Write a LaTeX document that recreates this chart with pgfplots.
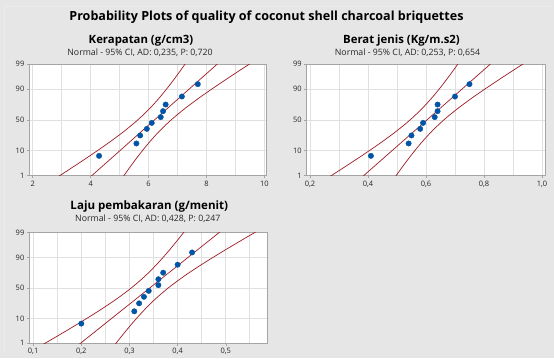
\documentclass[border=0pt]{standalone}
\usepackage{pgfplots}
\pgfplotsset{compat=1.18}
\usepackage{fontspec}
\setmainfont{Open Sans}
\definecolor{bg}{RGB}{230,230,230}
\definecolor{framec}{RGB}{165,165,165}
\definecolor{gridc}{RGB}{224,224,224}
\definecolor{ptblue}{RGB}{0,84,166}
\definecolor{cired}{RGB}{158,28,36}
\begin{document}
\begin{tikzpicture}[x=1bp,y=1bp]
\fill[bg] (0,0) rectangle (554,-358);
\draw[white!92!black, line width=0.6bp] (4.5,-352) -- (4.5,-6.5) -- (550,-6.5);
\pgfplotsset{pp/.style={scale only axis, width=237.4bp, height=111.4bp, anchor=north west,
  ymin=-2.3263, ymax=2.3263, ytick={-2.3263,-1.2816,0,1.2816,2.3263}, yticklabels={1,10,50,90,99},
  axis line style={framec, line width=0.9bp}, xmajorgrids, ymajorgrids, xminorgrids,
  major grid style={gridc, line width=0.8bp}, minor grid style={gridc, line width=0.8bp},
  tick style={framec, line width=0.6bp}, tick align=outside, major tick length=2.5bp, minor tick length=0pt,
  xtick pos=bottom, ytick pos=left,
  ticklabel style={font=\fontsize{7.5}{8}\selectfont, text=black!85},
  xticklabel style={yshift=1bp}, yticklabel style={xshift=1bp},
  axis background/.style={fill=white},
  /pgf/number format/assume math mode=true},
  pts/.style={only marks, mark=*, mark size=2.7bp, ptblue},
  fit/.style={cired, line width=0.7bp},
  band/.style={cired, line width=0.7bp, smooth}}
% Panel 1
\begin{axis}[pp, at={(29.3bp,-64.3bp)}, xmin=1.88, xmax=10.08, xtick={2,4,6,8,10}, minor xtick={3,5,7,9}]
\addplot[band] coordinates {(2.833,-2.4) (3.342,-2) (3.965,-1.5) (4.564,-1) (5.124,-0.5) (5.624,0) (6.054,0.5) (6.424,1) (6.755,1.5) (7.062,2) (7.297,2.4)};
\addplot[band] coordinates {(5.103,-2.4) (5.338,-2) (5.645,-1.5) (5.976,-1) (6.346,-0.5) (6.776,0) (7.276,0.5) (7.836,1) (8.435,1.5) (9.058,2) (9.567,2.4)};
\addplot[fit] coordinates {(3.968,-2.4) (8.432,2.4)};
\addplot[pts] coordinates {(4.29,-1.497) (5.58,-0.980) (5.71,-0.645) (5.94,-0.370) (6.11,-0.121) (6.42,0.121) (6.50,0.370) (6.59,0.645) (7.15,0.980) (7.70,1.497)};
\end{axis}
% Panel 2
\begin{axis}[pp, at={(306.7bp,-64.3bp)}, width=238.6bp, xmin=0.1886, xmax=1.0115, xtick={0.2,0.4,0.6,0.8,1.0}, xticklabels={{0,2},{0,4},{0,6},{0,8},{1,0}}, minor xtick={0.3,0.5,0.7,0.9}]
\addplot[band] coordinates {(0.2634,-2.4) (0.3147,-2) (0.3776,-1.5) (0.4380,-1) (0.4944,-0.5) (0.5449,0) (0.5882,0.5) (0.6256,1) (0.6590,1.5) (0.6899,2) (0.7136,2.4)};
\addplot[band] coordinates {(0.4924,-2.4) (0.5161,-2) (0.5471,-1.5) (0.5804,-1) (0.6178,-0.5) (0.6611,0) (0.7116,0.5) (0.7680,1) (0.8285,1.5) (0.8913,2) (0.9426,2.4)};
\addplot[fit] coordinates {(0.3779,-2.4) (0.8281,2.4)};
\addplot[pts] coordinates {(0.41,-1.497) (0.54,-0.980) (0.55,-0.645) (0.58,-0.370) (0.59,-0.121) (0.63,0.121) (0.64,0.370) (0.64,0.645) (0.70,0.980) (0.75,1.497)};
\end{axis}
% Panel 3
\begin{axis}[pp, at={(29.3bp,-232.7bp)}, width=238.4bp, height=110.6bp, xmin=0.092, xmax=0.587, xtick={0.1,0.2,0.3,0.4,0.5}, xticklabels={{0,1},{0,2},{0,3},{0,4},{0,5}}, minor xtick={0.15,0.25,0.35,0.45,0.55}]
\addplot[band] coordinates {(0.1183,-2.4) (0.1521,-2) (0.1935,-1.5) (0.2333,-1) (0.2705,-0.5) (0.3037,0) (0.3323,0.5) (0.3569,1) (0.3789,1.5) (0.3993,2) (0.4149,2.4)};
\addplot[band] coordinates {(0.2691,-2.4) (0.2847,-2) (0.3051,-1.5) (0.3271,-1) (0.3517,-0.5) (0.3803,0) (0.4135,0.5) (0.4507,1) (0.4905,1.5) (0.5319,2) (0.5657,2.4)};
\addplot[fit] coordinates {(0.1937,-2.4) (0.4903,2.4)};
\addplot[pts] coordinates {(0.20,-1.497) (0.31,-0.980) (0.32,-0.645) (0.33,-0.370) (0.34,-0.121) (0.36,0.121) (0.36,0.370) (0.37,0.645) (0.40,0.980) (0.43,1.497)};
\end{axis}
% Titles
\node[font=\bfseries\fontsize{12.6}{14}\selectfont] at (266.5,-17.5) {Probability Plots of quality of coconut shell charcoal briquettes};
\node[font=\bfseries\fontsize{11.4}{13}\selectfont] at (141,-40.5) {Kerapatan (g/cm3)};
\node[font=\fontsize{8.8}{10}\selectfont, text=black!85] at (140,-52.5) {Normal - 95\% CI, AD: 0,235, P: 0,720};
\node[font=\bfseries\fontsize{11.4}{13}\selectfont] at (401.5,-40.5) {Berat jenis (Kg/m.s2)};
\node[font=\fontsize{8.8}{10}\selectfont, text=black!85] at (407.5,-52.5) {Normal - 95\% CI, AD: 0,253, P: 0,654};
\node[font=\bfseries\fontsize{11.6}{13}\selectfont] at (149.3,-206.2) {Laju pembakaran (g/menit)};
\node[font=\fontsize{8.8}{10}\selectfont, text=black!85] at (147.8,-218.3) {Normal - 95\% CI, AD: 0,428, P: 0,247};
\end{tikzpicture}
\end{document}
